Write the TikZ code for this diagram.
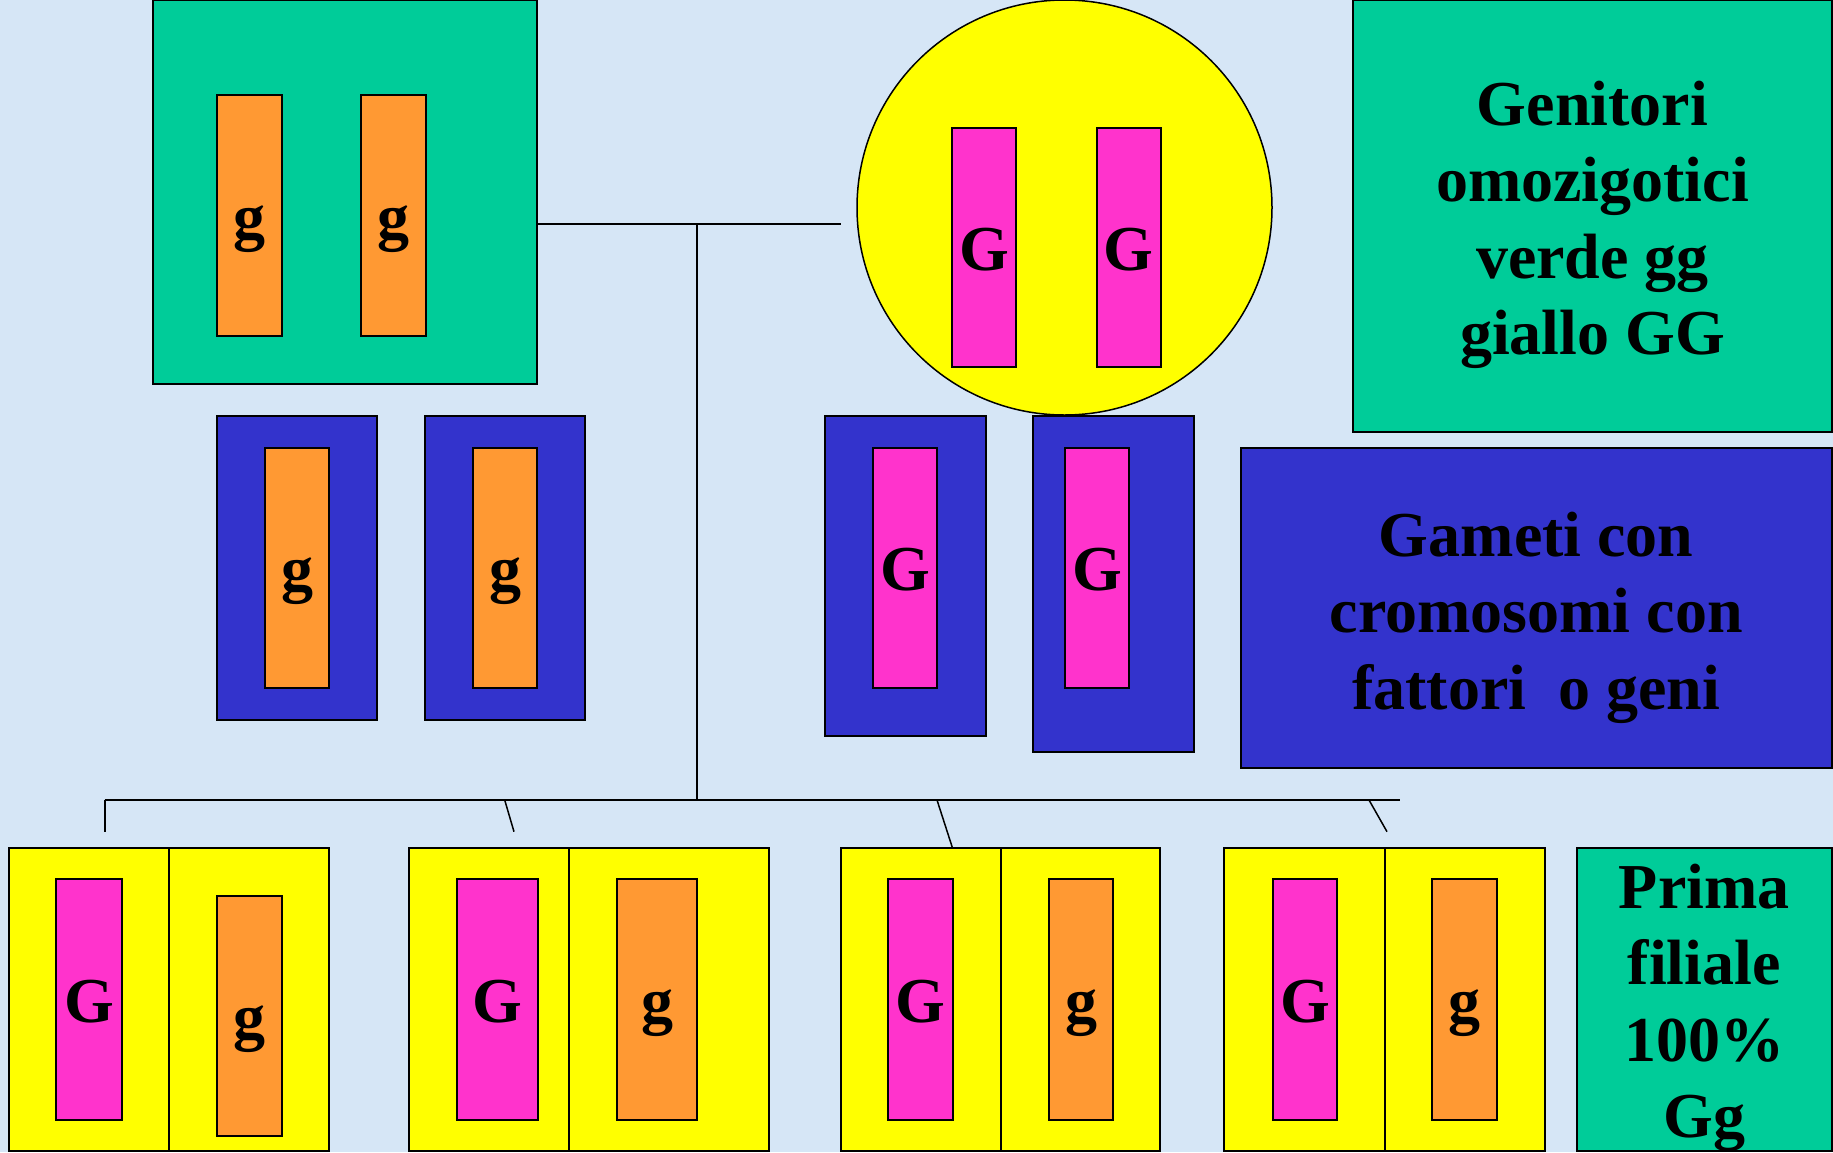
\documentclass[tikz,border=0pt]{standalone}
\usepackage{fontspec}
\setmainfont{Liberation Serif}
\definecolor{bgblue}{RGB}{214,230,246}
\definecolor{mgreen}{RGB}{0,204,153}
\definecolor{morange}{RGB}{255,153,51}
\definecolor{mpink}{RGB}{255,51,204}
\definecolor{mblue}{RGB}{51,51,204}
\definecolor{myellow}{RGB}{255,255,0}
\tikzset{
  bx/.style={draw=black, line width=2pt, inner sep=0pt, outer sep=0pt},
  grn/.style={bx, fill=mgreen},
  org/.style={bx, fill=morange, minimum width=64.6pt, minimum height=240.5pt},
  pnk/.style={bx, fill=mpink, minimum width=64.6pt, minimum height=240.5pt},
  blu/.style={bx, fill=mblue},
  yel/.style={bx, fill=myellow, minimum height=303.3pt},
  conn/.style={draw=black, line width=2pt},
  lab/.style={anchor=base, inner sep=0pt, font=\fontsize{64}{64}\selectfont\bfseries},
  txt/.style={align=center, inner sep=0pt, font=\fontsize{64}{76.5}\selectfont\bfseries},
}
\begin{document}
\begin{tikzpicture}[x=1pt,y=-1pt]
\fill[bgblue] (0,0) rectangle (1833,1152);
\useasboundingbox (0,0) rectangle (1833,1152);

% junction coordinates
\coordinate (j1) at (697,223.5);
\coordinate (cend) at (841,223.5);
\coordinate (j2) at (697,800);
\coordinate (b0) at (104.5,800);
\coordinate (b1) at (1399.5,800);
\coordinate (d1e) at (104.5,831.7);
\coordinate (d2s) at (504.7,800);
\coordinate (d2e) at (514,831.7);
\coordinate (d3s) at (937,800);
\coordinate (d3e) at (952.4,847.7);
\coordinate (d4s) at (1369,800);
\coordinate (d4e) at (1387,831.7);

% parents
\node[grn, minimum width=384pt, minimum height=384pt] (gp) at (345,191.85) {};
\node[org] (ob1) at (249.3,215.7) {};
\node[org] (ob2) at (393.2,215.7) {};
\node[lab] (l1) at ([yshift=-23pt]ob1.center) {g};
\node[lab] (l2) at ([yshift=-23pt]ob2.center) {g};

% connectors
\draw[conn] (gp.east |- j1) -- (j1) -- (cend);
\draw[conn] (j1) -- (j2);
\draw[conn] (b0) -- (b1);
\draw[conn] (b0) -- (d1e);
\draw[conn, line width=1.5pt] (d2s) -- (d2e);
\draw[conn, line width=1.5pt] (d3s) -- (d3e);
\draw[conn, line width=1.5pt] (d4s) -- (d4e);

% gametes left
\node[blu, minimum width=160pt, minimum height=304.2pt] (gl1) at (296.9,567.9) {};
\node[blu, minimum width=160pt, minimum height=304.2pt] (gl2) at (505,567.9) {};
\node[org, minimum height=239.8pt] (ig1) at (297,567.9) {};
\node[org, minimum height=239.8pt] (ig2) at (505,567.9) {};
\node[lab] (l3) at ([yshift=-23pt]ig1.center) {g};
\node[lab] (l4) at ([yshift=-23pt]ig2.center) {g};

% gametes right
\node[blu, minimum width=161pt, minimum height=320.2pt] (gr1) at (905,575.9) {};
\node[blu, minimum width=161pt, minimum height=336.2pt] (gr2) at (1113,583.9) {};
\node[pnk, minimum height=239.8pt] (ip1) at (905,567.9) {};
\node[pnk, minimum height=239.8pt] (ip2) at (1097,567.9) {};
\node[lab] (l5) at ([yshift=-23pt]ip1.center) {G};
\node[lab] (l6) at ([yshift=-23pt]ip2.center) {G};

% yellow parent
\node[circle, draw=black, line width=1.5pt, fill=myellow, minimum size=415pt, inner sep=0pt] (cp) at (1064.5,207.5) {};
\node[pnk, minimum width=64pt, minimum height=239.3pt] (pb1) at (984.4,247.7) {};
\node[pnk, minimum width=64pt, minimum height=239.3pt] (pb2) at (1128.5,247.7) {};
\node[lab] (l7) at ([yshift=-23pt]pb1.center) {G};
\node[lab] (l8) at ([yshift=-23pt]pb2.center) {G};

% text boxes
\node[grn, minimum width=479pt, minimum height=432pt] (tb1) at (1592.5,216) {};
\node[txt] (t1) at (1592.5,224.75) {Genitori\\omozigotici\\verde gg\\giallo GG};
\node[blu, minimum width=591.5pt, minimum height=320pt] (tb2) at (1536.25,608) {};
\node[txt] (t2) at (1536.25,617.5) {Gameti con\\cromosomi con\\fattori\ \ o geni};

% offspring
\node[yel, minimum width=160.2pt] (o1l) at (88.9,999.35) {};
\node[yel, minimum width=159.6pt] (o1r) at (248.8,999.35) {};
\node[pnk, minimum width=65.2pt, minimum height=241pt] (o1p) at (88.9,999.8) {};
\node[org, minimum width=64.7pt, minimum height=240.3pt] (o1o) at (249.35,1015.85) {};
\node[lab] (l9) at ([yshift=-23pt]o1p.center) {G};
\node[lab] (l10) at ([yshift=-23pt]o1o.center) {g};

\node[yel, minimum width=159.7pt] (o2l) at (488.85,999.35) {};
\node[yel, minimum width=200.1pt] (o2r) at (668.75,999.35) {};
\node[pnk, minimum width=80.6pt, minimum height=241pt] (o2p) at (497.3,999.8) {};
\node[org, minimum width=80.4pt, minimum height=241pt] (o2o) at (657,999.8) {};
\node[lab] (l11) at ([yshift=-23pt]o2p.center) {G};
\node[lab] (l12) at ([yshift=-23pt]o2o.center) {g};

\node[yel, minimum width=159.6pt] (o3l) at (921.1,999.35) {};
\node[yel, minimum width=159.5pt] (o3r) at (1080.65,999.35) {};
\node[pnk, minimum height=241pt] (o3p) at (920.75,999.8) {};
\node[org, minimum height=241pt] (o3o) at (1081,999.8) {};
\node[lab] (l13) at ([yshift=-23pt]o3p.center) {G};
\node[lab] (l14) at ([yshift=-23pt]o3o.center) {g};

\node[yel, minimum width=160.9pt] (o4l) at (1304.85,999.35) {};
\node[yel, minimum width=159.5pt] (o4r) at (1465,999.35) {};
\node[pnk, minimum height=241pt] (o4p) at (1305.1,999.8) {};
\node[org, minimum height=241pt] (o4o) at (1464.4,999.8) {};
\node[lab] (l15) at ([yshift=-23pt]o4p.center) {G};
\node[lab] (l16) at ([yshift=-23pt]o4o.center) {g};

\node[grn, minimum width=255.5pt, minimum height=303.3pt] (tb3) at (1704.25,999.35) {};
\node[txt] (t3) at (1704.25,1007.75) {Prima\\filiale\\100\%\\Gg};
\end{tikzpicture}
\end{document}
